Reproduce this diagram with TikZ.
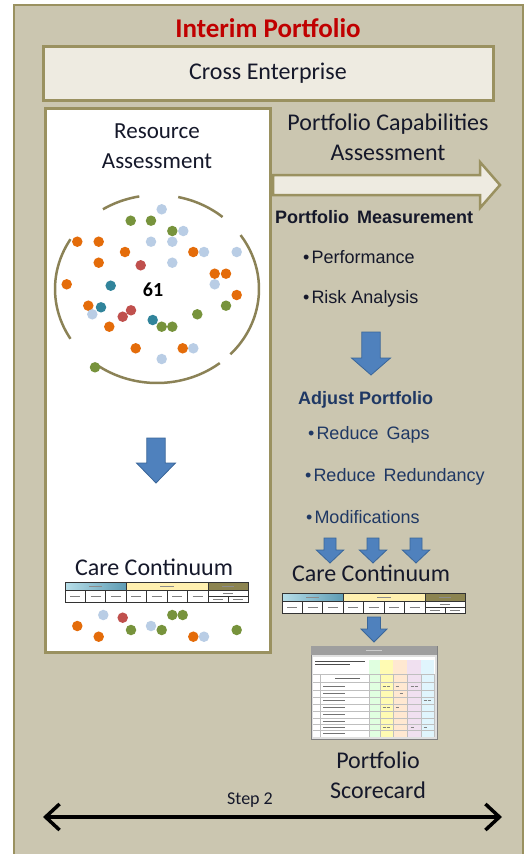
\documentclass[tikz,border=0pt]{standalone}
\usepackage{fontspec}
\setmainfont{Carlito}
\newfontfamily\arialf{Liberation Sans}
\usetikzlibrary{arrows.meta}
\definecolor{bgbeige}{HTML}{CBC6B0}
\definecolor{frameol}{HTML}{9A9160}
\definecolor{creamf}{HTML}{EEEBE1}
\definecolor{titlered}{HTML}{C00000}
\definecolor{dotor}{HTML}{E46C0A}
\definecolor{dotlb}{HTML}{B9CDE5}
\definecolor{dotgr}{HTML}{77933C}
\definecolor{dotrd}{HTML}{C0504D}
\definecolor{dottl}{HTML}{31849B}
\definecolor{blueA}{HTML}{4F81BD}
\definecolor{blueB}{HTML}{3A6699}
\definecolor{navyt}{HTML}{1F3864}
\definecolor{darkt}{HTML}{15182A}
\definecolor{tblue1}{HTML}{B7DEE8}
\definecolor{tblue2}{HTML}{5E9CB4}
\definecolor{tyellow}{HTML}{FFF0B0}
\definecolor{tolive}{HTML}{8C8450}
\newcommand\fsz[1]{\fontsize{#1}{#1}\selectfont}
\newcommand\bluedown[6]{%
  \draw[bluearr] (#1-#5,#2) -- (#1+#5,#2) -- (#1+#5,#3) -- (#1+#6,#3) -- (#1,#4) -- (#1-#6,#3) -- (#1-#5,#3) -- cycle;}
\newcommand\circarc[2]{%
  \draw[circline] plot[domain=#1:#2,samples=25,smooth] ({157+102*cos(\x)},{289-94*sin(\x)});}
\tikzset{
  bluearr/.style={fill=blueA,draw=blueB,line width=0.8pt,line join=miter},
  olbox/.style={draw=frameol,line width=3pt},
  circline/.style={draw=frameol!90!black,line width=2.5pt},
  dotst/.style={circle,inner sep=0pt,minimum size=10.5pt},
  calt/.style={text=darkt,inner sep=0pt},
  artx/.style={font=\arialf\fsz{18},inner sep=0pt,anchor=west},
  minitable/.pic={
    \shade[left color=tblue1,right color=tblue2] (0,0) rectangle (61,8);
    \fill[tyellow] (61,0) rectangle (143,8);
    \fill[tolive] (143,0) rectangle (183,8);
    \fill[white] (0,8) rectangle (183,20);
    \draw[black!80,line width=0.8pt] (0,0) rectangle (183,20) (0,8) -- (183,8)
      (61,0) -- (61,20) (143,0) -- (143,20)
      (20.3,8) -- (20.3,20) (40.7,8) -- (40.7,20)
      (81.5,8) -- (81.5,20) (102,8) -- (102,20) (122.5,8) -- (122.5,20)
      (143,14) -- (183,14) (163,14) -- (163,20);
    \draw[black!45,line width=0.5pt] (24,4) -- (37,4) (95,4) -- (109,4) (157,4) -- (169,4);
    \foreach \cx in {10.2,30.5,50.8,71.2,91.7,112.2,132.7}{\draw[black!50,line width=0.5pt] (\cx-5,14) -- (\cx+5,14);}
    \draw[black!50,line width=0.5pt] (158,11) -- (168,11) (148,17) -- (158,17) (168,17) -- (178,17);
  }
}
\begin{document}
\begin{tikzpicture}[x=1pt,y=-1pt]
\useasboundingbox (0,0) rectangle (525,854);
\fill[white] (0,0) rectangle (525,854);
% outer frame
\draw[fill=bgbeige,draw=frameol,line width=2pt] (14,5) rectangle (523,870);
\node[font=\bfseries\fsz{27},text=titlered,inner sep=0pt] (title) at (268,28) {Interim Portfolio};
% cross enterprise
\draw[olbox,fill=creamf] (43,46) rectangle (493,100);
\node[calt,font=\fsz{24}] (cross) at (268,73) {Cross Enterprise};
% resource box
\draw[olbox,fill=white] (45,108) rectangle (270,652);
\node[calt,font=\fontsize{23}{30}\selectfont,align=center] (resass) at (157,146) {Resource\\Assessment};
% dashed circle arcs (angles measured counter-clockwise, screen y downward handled in formula)
\circarc{100}{122}
\circarc{50}{78}
\circarc{-44}{35}
\circarc{-125}{-52}
\circarc{148}{212}
% dots in circle
\foreach \x/\y/\c [count=\i] in {161.7/209.3/dotlb,130.7/220.7/dotgr,151/220.7/dotgr,172.3/231/dotgr,183.3/231/dotlb,
  77.3/241.7/dotor,98.7/241.7/dotor,151/241.7/dotlb,172.3/241.7/dotlb,125/252/dotor,193.3/252/dotor,204/252/dotlb,
  236.7/252/dotlb,98.7/262.7/dotor,140.7/265.3/dotrd,172.3/262.7/dotlb,214.7/273.7/dotor,226/273.7/dotor,
  66.7/284.3/dotor,110.7/285.7/dottl,214.7/284.3/dotlb,236.7/295/dotor,88.3/305.7/dotor,92.3/314.3/dotlb,
  101/307.3/dottl,226/305.7/dotgr,131/310.3/dotrd,122.7/316.7/dotrd,197.3/314.3/dotgr,152.7/320/dottl,
  161.7/326.7/dotgr,172.3/326.7/dotgr,109.3/326.7/dotor,135.7/348.3/dotor,182.7/348.3/dotor,193.3/348.3/dotlb,
  161.7/359/dotlb,95/367.3/dotgr}{
  \node[dotst,fill=\c] (ca\i) at (\x,\y) {};
}
\node[font=\bfseries\fsz{20},inner sep=0pt] (n61) at (153,290) {61};
% left blue arrow
\bluedown{156}{438}{463}{483}{9.2}{19.5}
% left care continuum
\node[calt,font=\fsz{24}] (ccl) at (154,567) {Care Continuum};
\pic (mtl) at (65,582) {minitable};
\foreach \x/\y/\c [count=\i] in {103.3/615/dotlb,122.7/617.7/dotrd,172.3/615/dotgr,182.7/615/dotgr,77.3/626/dotor,
  151/626/dotlb,131/630/dotgr,161.7/630/dotgr,98.7/636.7/dotor,193.3/636.7/dotor,204/636.7/dotlb,236.7/630/dotgr}{
  \node[dotst,fill=\c] (cb\i) at (\x,\y) {};
}
% right side
\node[calt,font=\fontsize{24}{30}\selectfont,align=center] (pca) at (388,137) {Portfolio Capabilities\\Assessment};
\draw[fill=creamf,draw=frameol,line width=2.5pt,line join=miter] (273,175) -- (480,175) -- (480,162) -- (500,185)
  -- (480,208) -- (480,195) -- (273,195) -- cycle;
\node[artx,font=\arialf\bfseries\fsz{18},text=darkt] (pm) at (275,217) {Portfolio\, Measurement};
\node[artx,text=darkt] (perf) at (303,257) {•\hspace{2pt}Performance};
\node[artx,text=darkt] (risk) at (303,299) {•\hspace{2pt}Risk Analysis};
\bluedown{371}{332}{358}{375}{9.2}{19.5}
\node[artx,font=\arialf\bfseries\fsz{18},text=navyt] (adj) at (298,400) {Adjust Portfolio};
\node[artx,text=navyt] (gaps) at (308,435) {•\hspace{2pt}Reduce\, Gaps};
\node[artx,text=navyt] (redund) at (305,477) {•\hspace{2pt}Reduce\, Redundancy};
\node[artx,text=navyt] (mods) at (306,517) {•\hspace{2pt}Modifications};
\bluedown{330}{538}{550}{563}{6}{13.7}
\bluedown{373}{538}{550}{563}{6}{13.7}
\bluedown{416}{538}{550}{563}{6}{13.7}
\node[calt,font=\fsz{24}] (ccr) at (371,573) {Care Continuum};
\pic (mtr) at (282,593) {minitable};
\bluedown{374}{617}{629}{642}{6.5}{13}
% scorecard thumbnail
\begin{scope}
  \draw[fill=black!12,draw=black!50,line width=1pt] (311,646) rectangle (437,739);
  \fill[black!38] (311,646) rectangle (437,655);
  \draw[white!80!black,line width=0.5pt] (366,650.5) -- (382,650.5);
  \fill[white] (313,657) rectangle (435,737);
  \fill[green!12] (369,660) rectangle (380,737);
  \fill[yellow!30] (380,660) rectangle (393,737);
  \fill[orange!18] (393,660) rectangle (407,737);
  \fill[violet!12] (407,660) rectangle (421,737);
  \fill[cyan!12] (421,660) rectangle (434,737);
  \foreach \y in {674,682,690,697,704,711,718,724,730}{\draw[black!25,line width=0.4pt] (313,\y) -- (435,\y);}
  \foreach \x in {320,369,380,393,407,421,434}{\draw[black!25,line width=0.4pt] (\x,674) -- (\x,737);}
  \draw[black!70,line width=0.6pt] (315,661) -- (365,661) (315,664) -- (350,664);
  \draw[black!60,line width=0.6pt] (335,678) -- (360,678);
  \foreach \y in {686,693,700,707,714,721,727,733}{\draw[black!55,line width=0.5pt] (323,\y) -- (345,\y);}
  \foreach \x/\y in {384/686,388/686,397/686,401/693,412/686,416/686,425/700,429/700,384/707,388/707,397/707,384/727,388/727,412/727,425/727}{
    \draw[black!50,line width=0.5pt] (\x-1.5,\y) -- (\x+1.5,\y);}
\end{scope}
\node[calt,font=\fontsize{24}{30}\selectfont,align=center] (psc) at (378,775) {Portfolio\\Scorecard};
% step 2
\node[calt,font=\fsz{18}] (step) at (250,800) {Step 2};
\coordinate (sL) at (43,817);
\coordinate (sR) at (502,817);
\draw[line width=3.5pt,{Straight Barb[length=14pt,width=26pt]}-{Straight Barb[length=14pt,width=26pt]}] (sL) -- (sR);
\end{tikzpicture}
\end{document}
